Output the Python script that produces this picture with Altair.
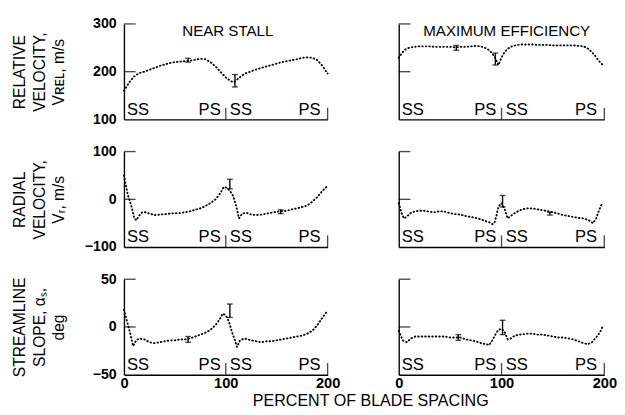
import altair as alt
import pandas as pd

FONT = "Liberation Sans"

# ---------------- data ----------------
x_ticks = [0, 100, 200]
col_titles = ["NEAR STALL", "MAXIMUM EFFICIENCY"]
col_title_x = [102, 105]
ss_label_x = [3, 104]
ps_label_x = [95, 193]

row_titles = [
    ["RELATIVE", "VELOCITY,", "V\u0280\u1d07\u029f, m/s"],
    ["RADIAL", "VELOCITY,", "V\u1d63, m/s"],
    ["STREAMLINE", "SLOPE, \u03b1\u209b,", "deg"],
]
y_ticks_vrel = [100, 200, 300]
y_ticks_vr = [-100, 0, 100]
y_ticks_as = [-50, 0, 50]

# Relative velocity, near stall
vrel_stall_x = [0, 3, 6, 10, 15, 20, 25, 30, 35, 40, 45, 50, 55, 60, 65, 70, 75, 80, 85, 90, 95, 100,
                105, 108, 112, 116, 120, 125, 130, 135, 140, 145, 150, 155, 160, 165, 170, 175, 180, 185,
                190, 195, 200]
vrel_stall = [160, 170, 180, 190, 197, 200, 204, 208, 212, 215, 218, 220, 221, 222, 223, 225, 227, 226,
              220, 211, 199, 188, 180, 178, 185, 192, 197, 201, 205, 208, 211, 214, 217, 220, 222, 224,
              226, 229, 230, 229, 224, 212, 196]
# Relative velocity, maximum efficiency
vrel_maxeff_x = [0, 3, 6, 10, 15, 20, 25, 30, 35, 40, 45, 50, 55, 60, 65, 70, 75, 80, 85, 88, 91, 94,
                 97, 100, 103, 106, 110, 115, 120, 125, 130, 135, 140, 145, 150, 155, 160, 165, 170,
                 175, 180, 185, 190, 195, 199]
vrel_maxeff = [229, 239, 246, 250, 252, 253, 253, 253, 252, 252, 252, 252, 251, 252, 252, 253, 254,
               253, 249, 245, 238, 228, 214, 230, 241, 248, 253, 256, 257, 257, 257, 256, 256, 256,
               255, 255, 255, 255, 255, 254, 253, 247, 236, 222, 213]
# Radial velocity, near stall
vr_stall_x = [0, 2, 4, 7, 10, 12, 15, 18, 22, 25, 30, 35, 40, 45, 50, 55, 60, 65, 70, 75, 80, 85, 90,
              95, 98, 101, 104, 107, 110, 113, 116, 120, 125, 130, 135, 140, 145, 150, 155, 160, 165,
              170, 175, 180, 185, 190, 195, 200]
vr_stall = [50, 28, 8, -12, -38, -44, -34, -27, -27, -30, -33, -32, -31, -30, -29, -29, -27, -25, -22,
            -19, -14, -8, 0, 14, 26, 24, 18, 8, -12, -40, -30, -28, -32, -33, -32, -30, -28, -26, -25,
            -24, -21, -19, -16, -13, -5, 5, 18, 28]
# Radial velocity, maximum efficiency
vr_maxeff_x = [0, 3, 5, 8, 12, 16, 20, 25, 30, 35, 40, 45, 50, 55, 60, 65, 70, 75, 80, 85, 88, 91, 93,
               95, 97, 100, 103, 106, 109, 112, 116, 120, 125, 130, 135, 140, 145, 150, 155, 160, 165,
               170, 175, 180, 185, 189, 192, 195, 198]
vr_maxeff = [-8, -30, -40, -36, -28, -25, -24, -24, -26, -27, -25, -26, -29, -31, -32, -35, -37, -39,
             -42, -46, -48, -52, -50, -35, -15, -8, -20, -40, -35, -30, -25, -21, -19, -19, -21, -23,
             -25, -27, -30, -33, -35, -37, -39, -40, -44, -50, -40, -22, -8]
# Streamline slope, near stall
as_stall_x = [0, 3, 6, 9, 12, 15, 20, 25, 30, 35, 40, 45, 50, 55, 60, 65, 70, 75, 80, 85, 90, 94, 97,
              100, 103, 106, 109, 111, 114, 118, 125, 130, 135, 140, 145, 150, 155, 160, 165, 170, 175,
              180, 185, 190, 195, 200]
as_stall = [18, 6, -6, -20, -14, -12, -13, -16, -17, -16, -15, -14, -14, -13, -13, -12, -10, -8, -6,
            -3, 2, 8, 14, 12, 6, -5, -14, -21, -14, -12, -14, -15, -16, -15, -15, -14, -13, -12, -11,
            -10, -9, -7, -4, 2, 10, 17]
# Streamline slope, maximum efficiency
as_maxeff_x = [0, 4, 8, 12, 16, 20, 25, 30, 35, 40, 45, 50, 55, 60, 65, 70, 75, 80, 85, 88, 91, 94, 97,
               100, 103, 106, 109, 113, 118, 125, 130, 135, 140, 145, 150, 155, 160, 165, 170, 175,
               180, 184, 188, 192, 196, 199]
as_maxeff = [-4, -14, -16, -12, -10, -10, -10, -10, -10, -10, -10, -11, -11, -11, -13, -14, -15, -17,
             -18, -19, -14, -8, -3, -2, -5, -13, -12, -9, -8, -7, -7, -8, -8, -9, -10, -11, -11, -12,
             -13, -15, -17, -18, -16, -11, -5, 2]

# error bars (position, low, high)
err_vrel_stall = ([63, 109], [220, 168], [228, 194])
err_vrel_maxeff = ([56, 94], [245, 214], [255, 239])
err_vr_stall = ([104, 154], [22, -30], [42, -22])
err_vr_maxeff = ([101, 147], [-16, -33], [8, -27])
err_as_stall = ([63, 104], [-16, 10], [-10, 24])
err_as_maxeff = ([58, 101], [-14, -8], [-8, 7])

rows = [
    (y_ticks_vrel, (vrel_stall_x, vrel_stall, err_vrel_stall), (vrel_maxeff_x, vrel_maxeff, err_vrel_maxeff)),
    (y_ticks_vr, (vr_stall_x, vr_stall, err_vr_stall), (vr_maxeff_x, vr_maxeff, err_vr_maxeff)),
    (y_ticks_as, (as_stall_x, as_stall, err_as_stall), (as_maxeff_x, as_maxeff, err_as_maxeff)),
]

PANEL_W = [209, 211]
PANEL_H = 98
INK = "black"


def panel(row_i, col_i, yticks, series):
    xs, ys, (ex, elo, ehi) = series
    is_left = col_i == 0
    is_bottom = row_i == 2
    lo, hi = yticks[0], yticks[-1]
    xscale = alt.Scale(domain=[x_ticks[0], x_ticks[-1]], nice=False, zero=False)
    yscale = alt.Scale(domain=[lo, hi], nice=False, zero=False)

    xaxis = alt.Axis(values=x_ticks, ticks=False, grid=False, labels=is_bottom, labelFlush=False,
                     labelFont=FONT, labelFontSize=15, labelFontWeight="bold", labelPadding=1,
                     labelColor=INK, domainColor=INK, domainWidth=1.4, title=None)
    if is_left:
        yaxis = alt.Axis(values=yticks, ticks=False, grid=False, labels=True, labelFont=FONT,
                         labelFontSize=14.5, labelFontWeight="bold", labelPadding=8, labelColor=INK,
                         domainColor=INK, domainWidth=1.4,
                         title=row_titles[row_i], titleFont=FONT, titleFontSize=16,
                         titleFontWeight="normal", titleLineHeight=20, titleX=-99,
                         titleBaseline="bottom", titleAlign="center", titleAngle=270,
                         titleColor=INK)
    else:
        yaxis = alt.Axis(values=yticks, ticks=False, grid=False, labels=False, domainColor=INK,
                         domainWidth=1.4, title=None)

    X = lambda f: alt.X(f, scale=xscale, axis=xaxis)
    Y = lambda f: alt.Y(f, scale=yscale, axis=yaxis)
    xdat = alt.datum(x_ticks[0], scale=xscale, axis=xaxis, type="quantitative")
    ydat = lambda v: alt.datum(v, scale=yscale, axis=yaxis, type="quantitative")

    df = pd.DataFrame({"x": xs, "y": ys})
    line = alt.Chart(df).mark_line(color=INK, strokeWidth=1.9, strokeDash=[0.6, 3.0],
                                   strokeCap="round").encode(x=X("x:Q"), y=Y("y:Q"))

    edf = pd.DataFrame({"x": ex, "lo": elo, "hi": ehi})
    ebar = alt.Chart(edf).mark_rule(color=INK, strokeWidth=1.4).encode(
        x=X("x:Q"), y=Y("lo:Q"), y2="hi:Q")
    ecap = alt.Chart(edf).transform_fold(["lo", "hi"], as_=["k", "v"]).mark_tick(
        orient="horizontal", size=6, thickness=1.4, color=INK).encode(x=X("x:Q"), y=Y("v:Q"))

    ytk = alt.Chart(pd.DataFrame({"v": yticks[1:]})).mark_tick(
        orient="horizontal", size=12, thickness=1.4, xOffset=6, color=INK).encode(
        x=xdat, y=Y("v:Q"))
    xtk = alt.Chart(pd.DataFrame({"v": x_ticks[1:]})).mark_tick(
        orient="vertical", size=12, thickness=1.4, yOffset=-6, color=INK).encode(
        x=X("v:Q"), y=ydat(lo))

    ss = alt.Chart(pd.DataFrame({"x": ss_label_x, "t": ["SS", "SS"]})).mark_text(
        align="left", baseline="alphabetic", dy=-5, font=FONT, fontSize=17, color=INK).encode(
        x=X("x:Q"), y=ydat(lo), text="t:N")
    ps = alt.Chart(pd.DataFrame({"x": ps_label_x, "t": ["PS", "PS"]})).mark_text(
        align="right", baseline="alphabetic", dy=-5, font=FONT, fontSize=17, color=INK).encode(
        x=X("x:Q"), y=ydat(lo), text="t:N")
    layers = [line, ebar, ecap, ytk, xtk, ss, ps]
    if row_i == 0:
        ttl = alt.Chart(pd.DataFrame({"x": [col_title_x[col_i]], "t": [col_titles[col_i]]})).mark_text(
            align="center", baseline="alphabetic", dy=12, font=FONT, fontSize=15.5, color=INK).encode(
            x=X("x:Q"), y=ydat(hi), text="t:N")
        layers.append(ttl)
    return alt.layer(*layers).properties(width=PANEL_W[col_i], height=PANEL_H)


panels = []
for ri, (yt, left_s, right_s) in enumerate(rows):
    panels.append(panel(ri, 0, yt, left_s))
    panels.append(panel(ri, 1, yt, right_s))

chart = alt.concat(*panels, columns=2, spacing={"row": 18, "column": 55}).properties(
    title=alt.TitleParams("PERCENT OF BLADE SPACING", orient="bottom", anchor="middle", font=FONT,
                          fontSize=16.5, fontWeight="normal", color=INK, offset=3, dx=58),
    padding={"left": 4, "top": 3, "right": 0, "bottom": 0},
).configure_view(stroke=None)

chart.save("out.html", embed_options={"renderer": "svg", "actions": False})
